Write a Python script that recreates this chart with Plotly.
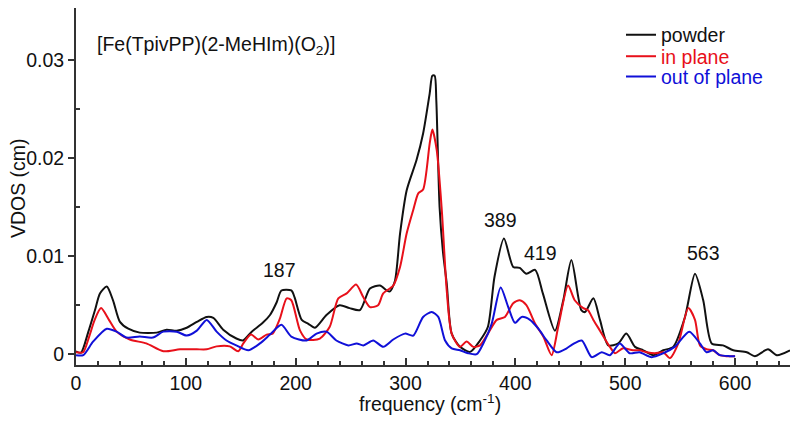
import plotly.graph_objects as go

# powder
powder_x = [0, 4.5, 11, 17.3, 21.8, 28, 33.7, 40, 47.6, 58, 73.5, 82.5, 91.6, 100.8, 110, 119, 125, 134, 146, 152,
            160, 170, 176.6, 182.7, 187, 196, 199, 205.5, 211.5, 217.5, 228, 240, 249, 258.5, 267.6, 276.7, 283,
            285.8, 290.4, 295, 301, 310, 316, 322, 324.4, 326.5, 328, 331, 334, 337.5, 342, 349.6, 358.7, 367.8,
            375, 381, 389.6, 398, 404, 410, 418, 425, 436, 443.6, 451, 460, 463.4, 471, 477, 484.6, 493.7, 501,
            508.9, 516.4, 525.5, 534.6, 543.7, 554.4, 563.5, 571, 578.7, 589, 598.4, 610.6, 618, 630, 638, 650]
powder_y = [0.0003, 0.00015, 0.0022, 0.0045, 0.0062, 0.0069, 0.0055, 0.0033, 0.0026, 0.0022, 0.0022, 0.0025,
            0.0024, 0.0027, 0.0033, 0.0038, 0.0037, 0.0025, 0.0016, 0.0014, 0.0023, 0.0032, 0.0040, 0.0053,
            0.0065, 0.0065, 0.0058, 0.0035, 0.0031, 0.0027, 0.0040, 0.0050, 0.0047, 0.0045, 0.0067, 0.0070,
            0.0065, 0.0064, 0.0075, 0.0123, 0.0167, 0.0198, 0.0225, 0.0266, 0.0284, 0.0284, 0.0259, 0.0150,
            0.0105, 0.0072, 0.0021, 0.00075, 0.00024, 0.0014, 0.0028, 0.0079, 0.0118, 0.0089, 0.0088, 0.0082,
            0.0086, 0.0062, 0.0024, 0.0055, 0.0096, 0.0045, 0.0043, 0.0057, 0.0035, 0.0009, 0.0011, 0.0021,
            0.00075, 0.0004, -0.0001, 0.0004, 0.00075, 0.0038, 0.0082, 0.0055, 0.0011, 0.0009, 0.0004, 0.0002,
            -0.0002, 0.0005, -0.0001, 0.0004]

# in plane
inplane_x = [0, 6.5, 12, 17, 22.8, 30, 37, 49, 64, 79.5, 94.7, 110, 119, 128, 140, 147.7, 152.3, 159.3, 166,
             173.6, 179, 185.5, 191.8, 196, 204, 210, 222, 231, 238.8, 246.4, 255, 261.6, 267.6, 275, 279.7,
             288.8, 295, 301, 307, 311.6, 316, 322, 324.4, 328.4, 333, 337.5, 342, 349.6, 355.6, 361.7, 367.8,
             375, 383, 390.5, 398, 404, 410, 418, 425.4, 433, 439, 448, 454, 461.8, 466, 471, 477, 486, 490.7,
             498, 507, 513, 519.5, 527, 534.6, 540.7, 548.3, 557.4, 563.5, 568, 574, 580, 586, 592, 600]
inplane_y = [0.0002, 0.0002, 0.0018, 0.0035, 0.0047, 0.0035, 0.0023, 0.0015, 0.0011, 0.0003, 0.0005, 0.0005,
             0.0005, 0.0008, 0.0008, 0.0003, 0.0011, 0.0020, 0.0015, 0.0020, 0.0021, 0.0036, 0.0057, 0.0055,
             0.0024, 0.0015, 0.0016, 0.0028, 0.0057, 0.0062, 0.0071, 0.0058, 0.0048, 0.0050, 0.0062, 0.0070,
             0.0089, 0.0123, 0.0147, 0.0164, 0.0168, 0.0215, 0.0229, 0.0208, 0.0147, 0.0065, 0.0021, 0.00075,
             0.0013, 0.00075, 0.0009, 0.0021, 0.0035, 0.0038, 0.0052, 0.0055, 0.0050, 0.0031, 0.0018, -0.0001,
             0.0028, 0.0070, 0.0055, 0.0047, 0.0045, 0.0035, 0.0024, 0.00075, 0.0001, 0.0006, 0.0004, 0.0004,
             0.0002, 0.0001, 0.0002, -0.0004, 0.0011, 0.0047, 0.0035, 0.0009, 0.0005, 0.0004, -0.0001, -0.0002,
             -0.0002]

# out of plane
outplane_x = [0, 6.6, 15.7, 28, 37, 46, 58, 70, 79.5, 91.6, 100.8, 110, 119, 128, 137, 146, 157, 167.5, 176.6,
              187, 196, 210, 219, 228, 237, 248, 255.5, 261.6, 270.6, 279.7, 288.8, 299.5, 307, 316, 323.8,
              329.8, 336, 342, 349.6, 357, 364.8, 370.8, 378.4, 386.6, 393.5, 399.6, 405.7, 413.3, 420.9, 428.5,
              437.6, 446.7, 452, 460.4, 469.5, 478.6, 486, 495, 504, 513, 524, 534.6, 545, 558.3, 568, 574, 580,
              586, 595, 600]
outplane_y = [-0.0001, -0.0001, 0.0013, 0.0026, 0.0023, 0.0017, 0.0018, 0.0017, 0.0023, 0.0023, 0.0019, 0.0024,
              0.0035, 0.0023, 0.0014, 0.0009, 0.0004, 0.0011, 0.0020, 0.0030, 0.0018, 0.0014, 0.0021, 0.0023,
              0.0014, 0.0009, 0.0011, 0.0009, 0.0014, 0.00075, 0.0015, 0.0021, 0.0019, 0.0038, 0.0043, 0.0038,
              0.0014, 0.0006, 0.0004, 0.0001, 0.0000, 0.0011, 0.0031, 0.0068, 0.0048, 0.0032, 0.0038, 0.0035,
              0.0026, 0.0014, 0.0002, 0.0006, 0.0010, 0.0014, -0.0003, 0.0002, -0.0001, 0.0011, 0.0001, 0.0002,
              -0.0003, 0.0001, 0.00075, 0.0023, 0.0011, 0.0002, 0.0004, -0.0001, -0.0002, -0.0002]

series_names = ["powder", "in plane", "out of plane"]
series_colors = ["#111111", "#e8101a", "#1010d8"]

peak_labels = ["187", "389", "419", "563"]
peak_label_x = [184.8, 386, 423.3, 570.8]
peak_label_y = [0.0086, 0.0137, 0.0103, 0.0103]

x_tickvals = [0, 100, 200, 300, 400, 500, 600]
x_minor_tickvals = [20, 40, 60, 80, 120, 140, 160, 180, 220, 240, 260, 280, 320, 340, 360, 380,
                    420, 440, 460, 480, 520, 540, 560, 580, 620, 640]
y_tickvals = [0, 0.01, 0.02, 0.03]
y_ticktext = ["0", "0.01", "0.02", "0.03"]
y_minor_tickvals = [0.005, 0.015, 0.025]

FONT = "Arial, Liberation Sans, sans-serif"
FS = 19.5
AXC = "#333333"

fig = go.Figure()
legend_ids = ["legend", "legend2", "legend3"]
for xs, ys, name, col, lg in zip([powder_x, inplane_x, outplane_x], [powder_y, inplane_y, outplane_y],
                                 series_names, series_colors, legend_ids):
    fig.add_trace(go.Scatter(
        x=xs, y=ys, mode="lines", name=name, legend=lg,
        line=dict(color=col, width=2, shape="spline", smoothing=0.7),
    ))

for t, x, y in zip(peak_labels, peak_label_x, peak_label_y):
    fig.add_annotation(x=x, y=y, text=t, showarrow=False, font=dict(size=FS, color="#111111", family=FONT))

fig.add_annotation(xref="paper", yref="paper", x=0.026, y=0.896, xanchor="left", yanchor="middle",
                   text="[Fe(TpivPP)(2-MeHIm)(O<sub>2</sub>)]", showarrow=False,
                   font=dict(size=FS, color="#111111", family=FONT))
# axis titles
fig.add_annotation(xref="paper", yref="paper", x=0.496, y=-0.106, xanchor="center", yanchor="middle",
                   text="frequency (cm<sup>-1</sup>)", showarrow=False,
                   font=dict(size=FS, color="#111111", family=FONT))
fig.add_annotation(xref="paper", yref="paper", x=-0.081, y=0.496, xanchor="center", yanchor="middle",
                   text="VDOS (cm)", textangle=-90, showarrow=False,
                   font=dict(size=FS, color="#111111", family=FONT))

leg_common = dict(x=0.7633, xanchor="left", yanchor="middle", bgcolor="rgba(0,0,0,0)", itemwidth=30)
fig.update_layout(
    width=792, height=413,
    margin=dict(l=68, r=10, t=0, b=56),
    paper_bgcolor="white", plot_bgcolor="white",
    font=dict(family=FONT, size=FS, color="#111111"),
    showlegend=True,
    legend=dict(y=0.924, font=dict(size=FS, family=FONT, color=series_colors[0]), **leg_common),
    legend2=dict(y=0.864, font=dict(size=FS, family=FONT, color=series_colors[1]), **leg_common),
    legend3=dict(y=0.807, font=dict(size=FS, family=FONT, color=series_colors[2]), **leg_common),
)
fig.update_xaxes(
    range=[0, 650], showline=True, linecolor=AXC, linewidth=2, automargin=False,
    showgrid=False, zeroline=False, ticks="inside", ticklen=7, tickwidth=1.5, tickcolor=AXC,
    tickmode="array", tickvals=x_tickvals, tickfont=dict(size=FS, family=FONT),
    minor=dict(tickmode="array", tickvals=x_minor_tickvals, ticks="inside", ticklen=4, tickwidth=1.5,
               tickcolor=AXC, showgrid=False),
)
fig.update_yaxes(
    range=[-0.0011, 0.0353], showline=True, linecolor=AXC, linewidth=2, automargin=False,
    showgrid=False, zeroline=False, ticks="outside", ticklen=6, tickwidth=1.5, tickcolor=AXC,
    tickmode="array", tickvals=y_tickvals, ticktext=y_ticktext, tickfont=dict(size=FS, family=FONT),
    minor=dict(tickmode="array", tickvals=y_minor_tickvals, ticks="inside", ticklen=4, tickwidth=1.5,
               tickcolor=AXC, showgrid=False),
)

fig.write_html("out.html")
